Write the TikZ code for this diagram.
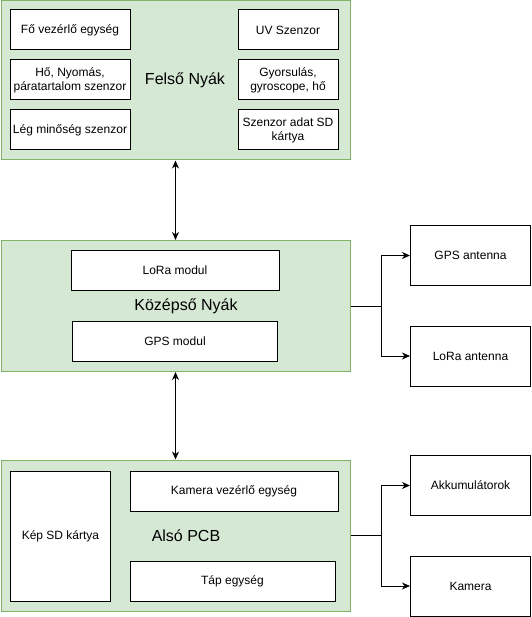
\documentclass[tikz,border=0pt]{standalone}
\usepackage{fontspec}
\setmainfont{Liberation Sans}
\usetikzlibrary{arrows.meta}
\definecolor{pcbfill}{HTML}{D5E8D4}
\definecolor{pcbdraw}{HTML}{82B366}
\tikzset{
  pcb/.style={draw=pcbdraw, fill=pcbfill, line width=1pt, inner sep=0pt},
  pcbtitle/.style={inner sep=0pt, font=\fontsize{16}{19}\selectfont},
  part/.style={draw=black, fill=white, line width=1pt, inner sep=2pt, align=center,
    font=\fontsize{12}{14}\selectfont},
  tip/.tip={Stealth[length=8pt,width=7pt,inset=2.5pt]},
  conn/.style={line width=1pt, -tip},
  biconn/.style={line width=1pt, tip-tip},
  wire/.style={line width=1pt},
}
\begin{document}
\begin{tikzpicture}[x=1pt,y=-1pt]
\useasboundingbox (0,0) rectangle (531,617);

% PCB boards
\node[pcb, minimum width=349, minimum height=159] (felso) at (175.5,80.5) {};
\node[pcb, minimum width=349, minimum height=131] (kozep) at (175.5,306) {};
\node[pcb, minimum width=349, minimum height=151] (also) at (175.5,535.5) {};

\node[pcbtitle] (felsoT) at (185,80) {Felső Nyák};
\node[pcbtitle] (kozepT) at (186,306) {Középső Nyák};
\node[pcbtitle] (alsoT) at (186,536) {Alsó PCB};

% Top board parts
\node[part, minimum width=120, minimum height=40] (fo) at (70,30) {Fő vezérlő egység};
\node[part, minimum width=120, minimum height=40] (ho) at (70,80) {Hő, Nyomás,\\páratartalom szenzor};
\node[part, minimum width=120, minimum height=40] (leg) at (70,130) {Lég minőség szenzor};
\node[part, minimum width=100, minimum height=40] (uv) at (288,30) {UV Szenzor};
\node[part, minimum width=100, minimum height=40] (gyors) at (288,80) {Gyorsulás,\\gyroscope, hő};
\node[part, minimum width=100, minimum height=40] (sdadat) at (288,130) {Szenzor adat SD\\kártya};

% Middle board parts
\node[part, minimum width=208, minimum height=40] (loramod) at (175,270.5) {LoRa modul};
\node[part, minimum width=205, minimum height=40] (gpsmod) at (175,341) {GPS modul};

% Bottom board parts
\node[part, minimum width=100, minimum height=130] (kepsd) at (60.5,536) {Kép SD kártya};
\node[part, minimum width=208, minimum height=40] (kamvez) at (234,491) {Kamera vezérlő egység};
\node[part, minimum width=205, minimum height=40] (tap) at (232.5,581) {Táp egység};

% External parts
\node[part, minimum width=120, minimum height=60] (gpsant) at (470.5,255.5) {GPS antenna};
\node[part, minimum width=120, minimum height=60] (loraant) at (470.5,356) {LoRa antenna};
\node[part, minimum width=120, minimum height=60] (akku) at (470.5,485.5) {Akkumulátorok};
\node[part, minimum width=120, minimum height=60] (kamera) at (470.5,586) {Kamera};

% Connectors
\draw[biconn] (felso.south) -- (kozep.north);
\draw[biconn] (kozep.south) -- (also.north);

\path (kozep.east) ++(30.5,0) coordinate (kj);
\path (also.east) ++(30.5,0) coordinate (aj);
\draw[wire] (kozep.east) -- (kj);
\draw[conn] (kj) |- (gpsant.west);
\draw[conn] (kj) |- (loraant.west);
\draw[wire] (also.east) -- (aj);
\draw[conn] (aj) |- (akku.west);
\draw[conn] (aj) |- (kamera.west);
\end{tikzpicture}
\end{document}
